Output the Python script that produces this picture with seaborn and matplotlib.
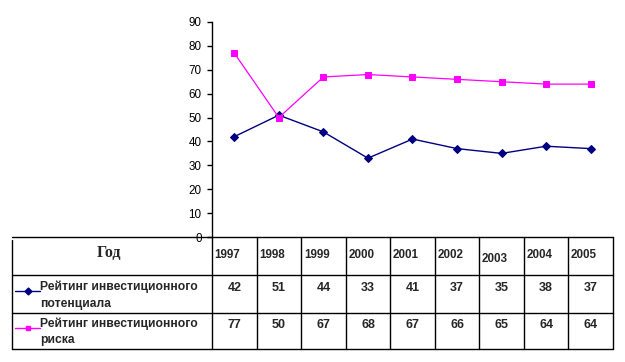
import matplotlib
matplotlib.use("Agg")
import matplotlib.pyplot as plt
import matplotlib.transforms as mtransforms
import numpy as np
import pandas as pd
import seaborn as sns

# ---------------------------------------------------------------
# Данные
# ---------------------------------------------------------------
years = ["1997", "1998", "1999", "2000", "2001", "2002", "2003", "2004", "2005"]
potential = [42, 51, 44, 33, 41, 37, 35, 38, 37]
risk = [77, 50, 67, 68, 67, 66, 65, 64, 64]
label_potential = ["Рейтинг инвестиционного", "потенциала"]
label_risk = ["Рейтинг инвестиционного", "риска"]
yticks = list(range(0, 100, 10))

NAVY = "#000080"
MAGENTA = "#FF00FF"

sns.set_style("white")
plt.rcParams["font.family"] = ["Liberation Sans", "DejaVu Sans"]

fig = plt.figure(figsize=(6.25, 3.62), dpi=100)
fig.patch.set_facecolor("white")
W, H = 625, 362
# оси: от x=212 до 613 px, от y=22 до 237 px
ax = fig.add_axes([212 / W, 1 - 237 / H, (613 - 212) / W, (237 - 22) / H])

idx = np.arange(len(years))
df = pd.DataFrame({
    "idx": np.concatenate([idx, idx]),
    "value": potential + risk,
    "series": ["potential"] * len(years) + ["risk"] * len(years),
})

sns.lineplot(data=df[df.series == "potential"], x="idx", y="value", color=NAVY,
             marker="D", markersize=4.5, markeredgecolor=NAVY, linewidth=1,
             ax=ax, legend=False)
sns.lineplot(data=df[df.series == "risk"], x="idx", y="value", color=MAGENTA,
             marker="s", markersize=4.5, markeredgecolor=MAGENTA, linewidth=0.9,
             ax=ax, legend=False)

ax.set_xlim(-0.5, len(years) - 0.5)
ax.set_ylim(0, 90)
ax.set_yticks(yticks)
ax.set_yticklabels([str(t) for t in yticks], fontsize=8.4)
ax.set_xticks([])
ax.set_xlabel("")
ax.set_ylabel("")
for s in ["top", "right", "bottom"]:
    ax.spines[s].set_visible(False)
ax.spines["left"].set_color("black")
ax.spines["left"].set_linewidth(1)
ax.tick_params(axis="y", direction="out", length=3.5, width=1, colors="black", pad=4,
               left=True)

# ---------------------------------------------------------------
# Таблица данных под графиком (x — в единицах оси, y — доля высоты осей)
# ---------------------------------------------------------------
tr = mtransforms.blended_transform_factory(ax.transData, ax.transAxes)


def fy(py):
    return (237 - py) / 215


x_left = -5.0
x_right = len(years) - 0.5
row_lines = [237, 275, 313, 349]

kw = dict(transform=tr, color="black", linewidth=1, clip_on=False)
for py in row_lines:
    ax.plot([x_left, x_right], [fy(py), fy(py)], **kw)
ax.plot([x_left, x_left], [fy(240), fy(349)], **kw)
for b in np.arange(-0.5, len(years), 1.0):
    ax.plot([b, b], [fy(237), fy(349)], **kw)

# заголовок
ax.text(-2.82, fy(253), "Год", transform=tr, ha="center", va="center",
        fontsize=11.5, fontweight="bold", family=["Liberation Serif", "DejaVu Serif"])
for i, y in enumerate(years):
    py = 259 if y == "2003" else 255
    ax.text(i - 0.44, fy(py), y, transform=tr, ha="left", va="center",
            fontsize=8.4, fontweight="bold")

# значения
for i in idx:
    ax.text(i, fy(288), str(potential[i]), transform=tr, ha="center", va="center",
            fontsize=9, fontweight="bold")
    ax.text(i, fy(325), str(risk[i]), transform=tr, ha="center", va="center",
            fontsize=9, fontweight="bold")

# подписи рядов с образцами линий
lx0, lx1, lxm = -4.92, -4.36, -4.64
ax.plot([lx0, lx1], [fy(291), fy(291)], transform=tr, color=NAVY, linewidth=1, clip_on=False)
ax.plot([lxm], [fy(291)], transform=tr, color=NAVY, marker="D", markersize=3.5, clip_on=False)
ax.plot([lx0, lx1], [fy(328), fy(328)], transform=tr, color=MAGENTA, linewidth=1, clip_on=False)
ax.plot([lxm], [fy(328)], transform=tr, color=MAGENTA, marker="s", markersize=3.5, clip_on=False)

tx = -4.36
ax.text(tx, fy(287), label_potential[0], transform=tr, ha="left", va="center",
        fontsize=8.7, fontweight="bold")
ax.text(tx, fy(304), label_potential[1], transform=tr, ha="left", va="center",
        fontsize=8.7, fontweight="bold")
ax.text(tx, fy(324), label_risk[0], transform=tr, ha="left", va="center",
        fontsize=8.7, fontweight="bold")
ax.text(tx, fy(340), label_risk[1], transform=tr, ha="left", va="center",
        fontsize=8.7, fontweight="bold")

fig.savefig("out.png", dpi=100, facecolor="white")
